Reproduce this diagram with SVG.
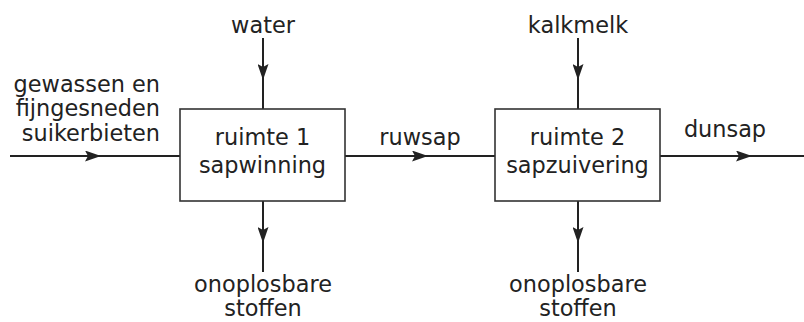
<svg xmlns="http://www.w3.org/2000/svg" width="804" height="322" viewBox="0 0 804 322">
<style>
text{font-family:"DejaVu Sans",sans-serif;font-size:22.4px;fill:#222;}
.c{text-anchor:middle;}
.r{text-anchor:end;}
.box{fill:#fff;stroke:#333;stroke-width:1.6;}
.ln{fill:none;stroke:#222;stroke-width:2;marker-mid:url(#ah);}
</style>
<defs>
<marker id="ah" viewBox="0 0 16 11" refX="16" refY="5.5" markerWidth="16" markerHeight="11" markerUnits="userSpaceOnUse" orient="auto">
<path d="M0,0 L16,5.5 L0,11 L3,5.5 Z" fill="#222"/>
</marker>
</defs>
<g id="connectors">
<path class="ln" d="M10,156 L101,156 L180,156"/>
<path class="ln" d="M345,156 L428,156 L495,156"/>
<path class="ln" d="M660,156 L752,156 L804,156"/>
<path class="ln" d="M263,38 L263,80 L263,109"/>
<path class="ln" d="M578,38 L578,80 L578,109"/>
<path class="ln" d="M263,201 L263,243 L263,272"/>
<path class="ln" d="M578,201 L578,243 L578,272"/>
</g>
<g id="ruimte1">
<rect class="box" x="180" y="109" width="165" height="92"/>
<text class="c" x="262.5" y="145">ruimte 1</text>
<text class="c" x="262.5" y="173">sapwinning</text>
</g>
<g id="ruimte2">
<rect class="box" x="495" y="109" width="165" height="92"/>
<text class="c" x="577.5" y="145">ruimte 2</text>
<text class="c" x="577.5" y="173">sapzuivering</text>
</g>
<g id="input">
<text class="r" x="160" y="92">gewassen en</text>
<text class="r" x="160" y="116">fijngesneden</text>
<text class="r" x="160" y="141">suikerbieten</text>
</g>
<g id="water"><text class="c" x="263" y="33">water</text></g>
<g id="kalkmelk"><text class="c" x="578" y="33">kalkmelk</text></g>
<g id="ruwsap"><text class="c" x="420" y="145">ruwsap</text></g>
<g id="dunsap"><text class="c" x="725" y="137">dunsap</text></g>
<g id="afval1">
<text class="c" x="263" y="292">onoplosbare</text>
<text class="c" x="263" y="316">stoffen</text>
</g>
<g id="afval2">
<text class="c" x="578" y="292">onoplosbare</text>
<text class="c" x="578" y="316">stoffen</text>
</g>
</svg>
